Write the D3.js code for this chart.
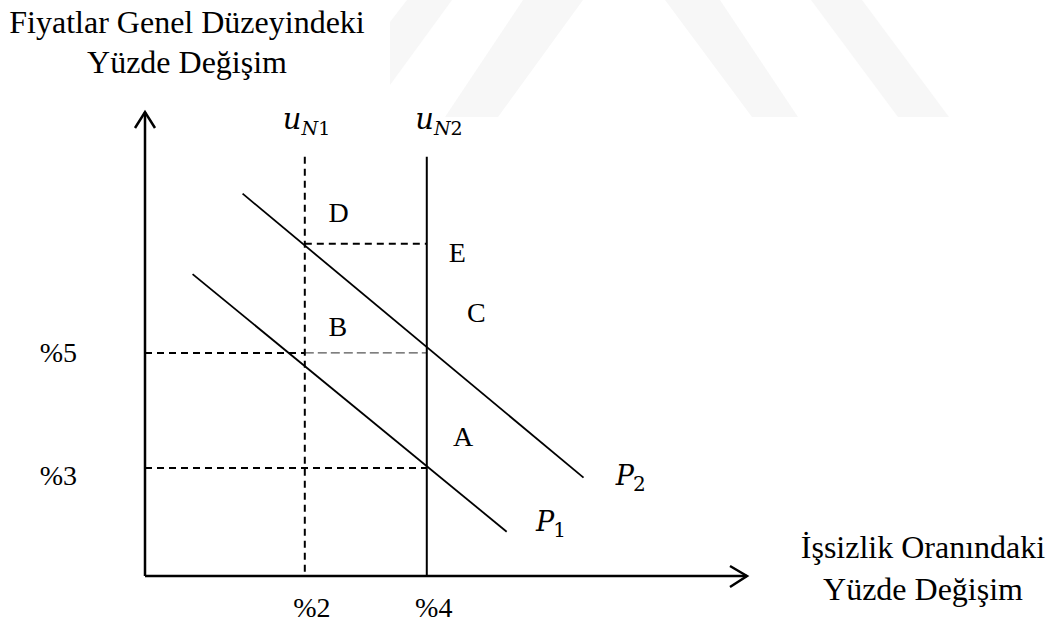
<!DOCTYPE html>
<html>
<head>
<meta charset="utf-8">
<script src="https://cdn.jsdelivr.net/npm/d3@7"></script>
<style>
  body { margin: 0; background: #fff; }
  text { font-family: "Liberation Serif", "Times New Roman", serif; fill: #000; }
  .math { font-family: "DejaVu Serif", serif; font-style: italic; }
  .up { font-family: "DejaVu Serif", serif; font-style: normal; }
</style>
</head>
<body>
<svg id="vis"></svg>
<script>
// chart values (diagram units: x = unemployment %, y = inflation %)
var naturalRates = [2, 4];              // u_N1, u_N2
var naturalNames = ["1", "2"];
var naturalStyles = ["dashed", "solid"];
var naturalTop = 8.41;
var naturalLabelX = [1.64, 3.81];

var inflationLevels = [3, 5];
var inflationLabels = ["%3", "%5"];
var inflationLabelY = [2.70, 4.84];
var expectedLevel = 6.9;               // D-E dashed level

var xTickValues = [2, 4];
var xTickLabels = ["%2", "%4"];

var curveP1 = [[0.16, 6.37], [5.31, 1.89]];
var curveP2 = [[0.98, 7.77], [6.57, 2.83]];
var curveNames = ["1", "2"];
var curveLabelPos = [[5.79, 1.90], [7.10, 2.70]];

var pointNames = ["A", "B", "C", "D", "E"];
var pointX = [4.43, 2.39, 4.66, 2.39, 4.36];
var pointY = [3.38, 5.30, 5.54, 7.28, 6.58];

var yTitle = ["Fiyatlar Genel Düzeyindeki", "Yüzde Değişim"];
var xTitle = ["İşsizlik Oranındaki", "Yüzde Değişim"];

//canvas
var width = 1054;
var height = 625;
var svg = d3.select("#vis").attr("width", width).attr("height", height);

var x = d3.scaleLinear().domain([-0.62, 9.25]).range([145, 747]);
var y = d3.scaleLinear().domain([1.12, 9.19]).range([576, 112]);
var x0 = x.domain()[0], y0 = y.domain()[0];

// faint watermark in the background
var wm = svg.append("g").attr("fill", "#f7f7f7");
[
  [[390, 85], [390, 22], [407, 0], [452, 0]],
  [[445, 117], [498, 117], [583, 0], [523, 0]],
  [[665, 0], [720, 0], [798, 117], [752, 117]],
  [[811, 0], [862, 0], [949, 117], [898, 117]]
].forEach(function(p){ wm.append("polygon").attr("points", p.join(" ")); });

var line = d3.line().x(function(d){ return x(d[0]); }).y(function(d){ return y(d[1]); });

// dashed guide lines
var guides = svg.append("g").attr("fill", "none");
inflationLevels.forEach(function(v, i){
  if (v == 5) {
    guides.append("path").attr("d", line([[x0, v], [naturalRates[0], v]]))
      .attr("stroke", "#000").attr("stroke-width", 2).attr("stroke-dasharray", "7,5");
    guides.append("path").attr("d", line([[naturalRates[0], v], [naturalRates[1], v]]))
      .attr("stroke", "#555").attr("stroke-width", 1.3).attr("stroke-dasharray", "9,4");
  } else {
    guides.append("path").attr("d", line([[x0, v], [naturalRates[1], v]]))
      .attr("stroke", "#000").attr("stroke-width", 2).attr("stroke-dasharray", "7,5");
  }
});
guides.append("path").attr("d", line([[naturalRates[0], expectedLevel], [naturalRates[1], expectedLevel]]))
  .attr("stroke", "#000").attr("stroke-width", 2).attr("stroke-dasharray", "7,5");

// natural rate verticals
naturalRates.forEach(function(v, i){
  svg.append("path").attr("d", line([[v, naturalTop], [v, y0]]))
    .attr("fill", "none").attr("stroke", "#000")
    .attr("stroke-width", 2)
    .attr("stroke-dasharray", naturalStyles[i] == "dashed" ? "7,5" : null);
  var t = svg.append("text")
    .attr("x", x(naturalLabelX[i])).attr("y", 129);
  t.append("tspan").attr("class", "math").style("font-size", "29px").text("u");
  t.append("tspan").attr("class", "math").attr("dy", 6).style("font-size", "19px").text("N");
  t.append("tspan").attr("class", "up").style("font-size", "19px").text(naturalNames[i]);
});

// Phillips curves
[curveP1, curveP2].forEach(function(c, i){
  svg.append("path").attr("d", line(c))
    .attr("fill", "none").attr("stroke", "#000").attr("stroke-width", 1.8);
  var t = svg.append("text")
    .attr("x", x(curveLabelPos[i][0])).attr("y", y(curveLabelPos[i][1]));
  t.append("tspan").attr("class", "math").style("font-size", "27px").text("P");
  t.append("tspan").attr("class", "up").attr("dy", 6).attr("dx", -1).style("font-size", "20px")
    .text(curveNames[i]);
});

// axes with open arrow heads
var axes = svg.append("g").attr("fill", "none").attr("stroke", "#000").attr("stroke-width", 2.5);
var ox = x(x0), oy = y(y0), xt = x(x.domain()[1]), yt = y(y.domain()[1]);
axes.append("path").attr("d", "M" + ox + "," + oy + "L" + xt + "," + oy);
axes.append("path").attr("d", "M" + ox + "," + oy + "L" + ox + "," + yt);
axes.append("path").attr("d", "M" + (xt - 17) + "," + (oy - 10) + "L" + xt + "," + oy + "L" + (xt - 17) + "," + (oy + 11));
axes.append("path").attr("d", "M" + (ox - 10) + "," + (yt + 16) + "L" + ox + "," + yt + "L" + (ox + 10) + "," + (yt + 16));

// tick labels
svg.selectAll(".xtick").data(xTickValues).enter().append("text")
  .attr("x", function(d){ return x(d) + 7; }).attr("y", oy + 41)
  .attr("text-anchor", "middle").style("font-size", "28px")
  .text(function(d, i){ return xTickLabels[i]; });
svg.selectAll(".ytick").data(inflationLabelY).enter().append("text")
  .attr("x", ox - 68).attr("y", function(d){ return y(d); })
  .attr("text-anchor", "end").style("font-size", "28px")
  .text(function(d, i){ return inflationLabels[i]; });

// point letters
svg.selectAll(".pt").data(pointNames).enter().append("text")
  .attr("x", function(d, i){ return x(pointX[i]); })
  .attr("y", function(d, i){ return y(pointY[i]); })
  .style("font-size", "28px")
  .text(function(d){ return d; });

// axis titles
yTitle.forEach(function(s, i){
  svg.append("text").attr("x", 187).attr("y", 33 + i * 40)
    .attr("text-anchor", "middle").style("font-size", "32px").text(s);
});
xTitle.forEach(function(s, i){
  svg.append("text").attr("x", 923).attr("y", 558 + i * 42)
    .attr("text-anchor", "middle").style("font-size", "32px").text(s);
});
</script>
</body>
</html>
